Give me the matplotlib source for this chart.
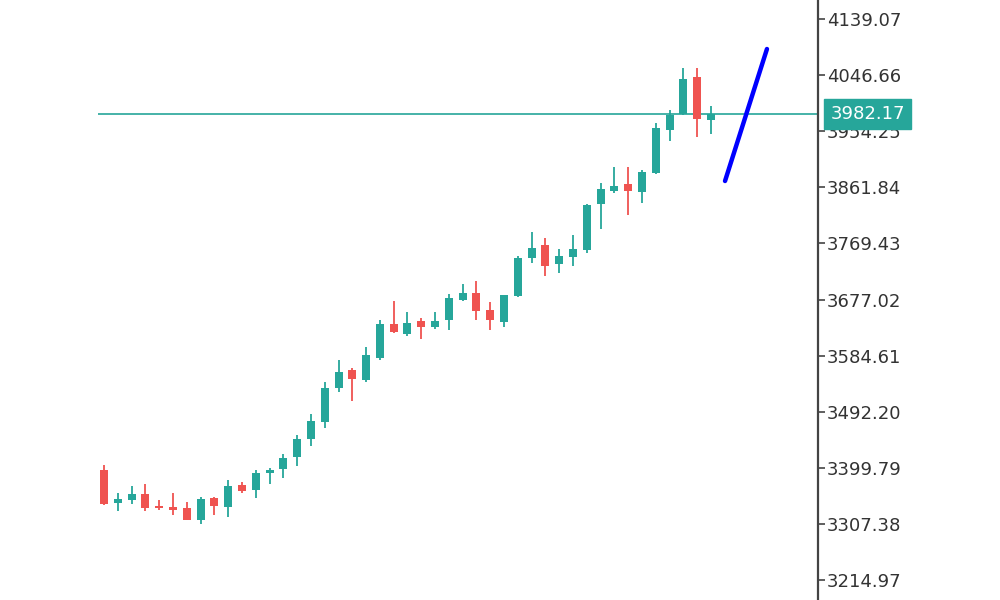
import matplotlib
matplotlib.use('Agg')
import matplotlib.pyplot as plt
import numpy as np

# daily candles
opens = [3396, 3342, 3346, 3356, 3337, 3336, 3333, 3313, 3350, 3336,
         3371, 3363, 3392, 3398, 3418, 3447, 3476, 3531, 3561, 3545,
         3580, 3636, 3620, 3642, 3631, 3643, 3677, 3688, 3659, 3640,
         3682, 3745, 3766, 3736, 3747, 3759, 3834, 3856, 3867, 3854,
         3885, 3957, 3982, 4043, 3973]
highs = [3404, 3359, 3370, 3373, 3347, 3359, 3344, 3351, 3352, 3379,
         3377, 3396, 3400, 3422, 3454, 3488, 3541, 3578, 3564, 3599,
         3644, 3675, 3656, 3647, 3656, 3686, 3702, 3707, 3673, 3685,
         3749, 3789, 3778, 3760, 3783, 3834, 3869, 3896, 3896, 3890,
         3967, 3990, 4058, 4058, 3995]
lows = [3338, 3329, 3340, 3329, 3330, 3322, 3313, 3308, 3322, 3319,
        3358, 3350, 3373, 3383, 3403, 3435, 3466, 3525, 3510, 3541,
        3577, 3622, 3617, 3612, 3628, 3627, 3675, 3643, 3627, 3632,
        3681, 3737, 3716, 3721, 3733, 3753, 3793, 3852, 3817, 3836,
        3884, 3938, 3981, 3944, 3950]
closes = [3340, 3348, 3356, 3333, 3333, 3331, 3314, 3348, 3337, 3370,
          3362, 3392, 3396, 3416, 3448, 3477, 3531, 3558, 3546, 3586,
          3636, 3623, 3638, 3631, 3642, 3679, 3688, 3658, 3643, 3684,
          3746, 3762, 3733, 3749, 3760, 3833, 3859, 3864, 3855, 3887,
          3959, 3981, 4041, 3975, 3982.17]

last_price = 3982.17
tick_labels = ['4139.07', '4046.66', '3954.25', '3861.84', '3769.43', '3677.02',
               '3584.61', '3492.20', '3399.79', '3307.38', '3214.97']

# drawn trend line
trend_x = [45.02, 48.06]
trend_y = [3872.2, 4089.7]

UP = '#26a69a'
DOWN = '#ef5350'

fig = plt.figure(figsize=(10, 6), dpi=100)
ax = fig.add_axes([0.098, 0.0, 0.72, 1.0])

xs = np.arange(len(opens))
o = np.array(opens, dtype=float)
c = np.array(closes, dtype=float)
colors = [UP if cc >= oo else DOWN for oo, cc in zip(o, c)]

ax.vlines(xs, lows, highs, colors=colors, linewidth=1.3, zorder=2)
body_h = np.maximum(np.abs(c - o), 1.5)
ax.bar(xs, body_h, bottom=np.minimum(o, c), width=0.58, color=colors,
       linewidth=0, zorder=3)

ax.axhline(last_price, color=UP, linewidth=1.2, zorder=1)
ax.plot(trend_x, trend_y, color='#0000ff', linewidth=3.2,
        solid_capstyle='round', zorder=4)

ax.set_xlim(-0.435, 51.76)
ax.set_ylim(3182.0, 4170.4)

for s in ['left', 'top', 'bottom']:
    ax.spines[s].set_visible(False)
ax.spines['right'].set_color('#444444')
ax.spines['right'].set_linewidth(1.6)
ax.set_xticks([])
ax.yaxis.tick_right()
ax.set_yticks([float(t) for t in tick_labels])
ax.set_yticklabels(tick_labels)
ax.tick_params(axis='y', length=5, width=1.2, color='#444444', pad=1.5,
               labelsize=13, labelcolor='#333333')

# current price tag
ax.text(1.017, last_price, '%.2f' % last_price, transform=ax.get_yaxis_transform(),
        ha='left', va='center', fontsize=13, color='white', zorder=10,
        bbox=dict(boxstyle='square,pad=0.32', facecolor=UP, edgecolor=UP),
        clip_on=False)

plt.savefig('out.png')
